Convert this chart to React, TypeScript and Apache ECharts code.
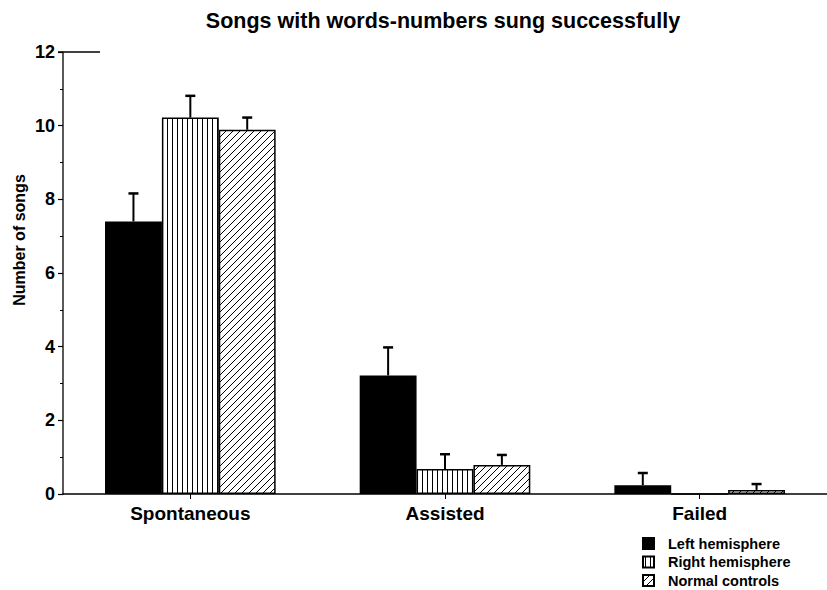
import React, { useEffect, useRef } from "react";
import * as echarts from "echarts";

const categories = ["Spontaneous", "Assisted", "Failed"];
const seriesNames = ["Left hemisphere", "Right hemisphere", "Normal controls"];
const leftValues = [7.4, 3.22, 0.24];
const rightValues = [10.22, 0.68, 0];
const normalValues = [9.89, 0.79, 0.11];
const leftErrors = [0.76, 0.76, 0.33];
const rightErrors = [0.59, 0.4, 0];
const normalErrors = [0.33, 0.27, 0.16];
const yMin = 0;
const yMax = 12;
const yInterval = 2;

const FONT = "'Liberation Sans', Arial, Helvetica, sans-serif";
const CATEGORY_GAP = 0.33;

function makeVertical(): HTMLCanvasElement {
  const c = document.createElement("canvas");
  c.width = 5;
  c.height = 5;
  const ctx = c.getContext("2d")!;
  ctx.fillStyle = "#fff";
  ctx.fillRect(0, 0, 5, 5);
  ctx.fillStyle = "#000";
  ctx.fillRect(2, 0, 1, 5);
  return c;
}

function makeHatch(): HTMLCanvasElement {
  const s = 7;
  const c = document.createElement("canvas");
  c.width = s;
  c.height = s;
  const ctx = c.getContext("2d")!;
  ctx.fillStyle = "#fff";
  ctx.fillRect(0, 0, s, s);
  ctx.strokeStyle = "#000";
  ctx.lineWidth = 1;
  ctx.beginPath();
  ctx.moveTo(-1, s + 1);
  ctx.lineTo(s + 1, -1);
  ctx.moveTo(-2, 2);
  ctx.lineTo(2, -2);
  ctx.moveTo(s - 2, s + 2);
  ctx.lineTo(s + 2, s - 2);
  ctx.stroke();
  return c;
}

function errorSeries(idx: number, values: number[], errors: number[]) {
  return {
    type: "custom",
    name: "err" + idx,
    z: 5,
    silent: true,
    encode: { x: 0, y: [1, 2] },
    data: categories.map((_, i) => [i, values[i], values[i] + errors[i]]),
    renderItem: (params: any, api: any) => {
      const x = api.value(0);
      const v = api.value(1);
      const top = api.value(2);
      if (top - v <= 0) return { type: "group", children: [] };
      const base = api.coord([x, v]);
      const tp = api.coord([x, top]);
      const band = api.size([1, 0])[0];
      const barW = (band * (1 - CATEGORY_GAP)) / 3;
      const cx = base[0] + (idx - 1) * barW;
      const style = { stroke: "#000", lineWidth: 2 };
      return {
        type: "group",
        children: [
          { type: "line", shape: { x1: cx, y1: base[1], x2: cx, y2: tp[1] }, style },
          { type: "line", shape: { x1: cx - 5, y1: tp[1], x2: cx + 5, y2: tp[1] }, style: { stroke: "#000", lineWidth: 2.5 } },
        ],
      };
    },
  };
}

export default function App() {
  const ref = useRef<HTMLDivElement>(null);
  useEffect(() => {
    document.body.style.margin = "0";
    const chart = echarts.init(ref.current!, null, { renderer: "svg" });
    const vert = makeVertical();
    const hatch = makeHatch();
    const fills: any[] = [
      "#000",
      { image: vert, repeat: "repeat" },
      { image: hatch, repeat: "repeat" },
    ];
    const valueSets = [leftValues, rightValues, normalValues];
    const barSeries = seriesNames.map((name, k) => ({
      type: "bar",
      name,
      data: valueSets[k],
      barGap: "0%",
      barCategoryGap: CATEGORY_GAP * 100 + "%",
      itemStyle: { color: fills[k], borderColor: "#000", borderWidth: 1.5 },
      emphasis: { disabled: true },
    }));
    const option: any = {
      animation: false,
      backgroundColor: "#fff",
      grid: { left: 63, right: 0, top: 52, bottom: 96, containLabel: false },
      legend: {
        data: seriesNames,
        orient: "vertical",
        left: 642,
        top: 536,
        padding: 0,
        height: 60,
        icon: "rect",
        itemWidth: 11,
        itemHeight: 11,
        itemGap: 3.5,
        selectedMode: false,
        textStyle: {
          fontFamily: FONT,
          fontWeight: "bold",
          fontSize: 14.5,
          lineHeight: 14.5,
          color: "#000",
          padding: [0, 0, 0, 9],
        },
      },
      xAxis: {
        type: "category",
        data: categories,
        axisLine: { lineStyle: { color: "#000", width: 1.5 } },
        axisTick: { show: true, alignWithLabel: true, length: 5, lineStyle: { color: "#000" } },
        axisLabel: { margin: 10, fontFamily: FONT, fontWeight: "bold", fontSize: 19, color: "#000" },
      },
      yAxis: {
        type: "value",
        min: yMin,
        max: yMax,
        interval: yInterval,
        axisLine: { show: true, lineStyle: { color: "#222", width: 1.5 } },
        axisTick: { show: true, length: 5, lineStyle: { color: "#000", width: 1.2 } },
        minorTick: { show: true, splitNumber: 2, length: 3, lineStyle: { color: "#000" } },
        splitLine: { show: false },
        axisLabel: { margin: 8, fontFamily: FONT, fontWeight: "bold", fontSize: 18, color: "#000" },
      },
      graphic: [
        {
          type: "text",
          x: 443,
          y: 21,
          style: {
            text: "Songs with words-numbers sung successfully",
            fontFamily: FONT,
            fontWeight: "bold",
            fontSize: 21.5,
            fill: "#000",
            textAlign: "center",
            textVerticalAlign: "middle",
          },
        },
        {
          type: "text",
          x: 19,
          y: 240,
          rotation: Math.PI / 2,
          style: {
            text: "Number of songs",
            fontFamily: FONT,
            fontWeight: "bold",
            fontSize: 16,
            fill: "#000",
            textAlign: "center",
            textVerticalAlign: "middle",
          },
        },
        {
          type: "line",
          shape: { x1: 58, y1: 52, x2: 100, y2: 52 },
          style: { stroke: "#000", lineWidth: 1.5 },
        },
      ],
      series: [
        ...barSeries,
        errorSeries(0, leftValues, leftErrors),
        errorSeries(1, rightValues, rightErrors),
        errorSeries(2, normalValues, normalErrors),
      ],
    };
    chart.setOption(option);
    return () => chart.dispose();
  }, []);
  return <div ref={ref} style={{ width: 827, height: 590 }} />;
}
